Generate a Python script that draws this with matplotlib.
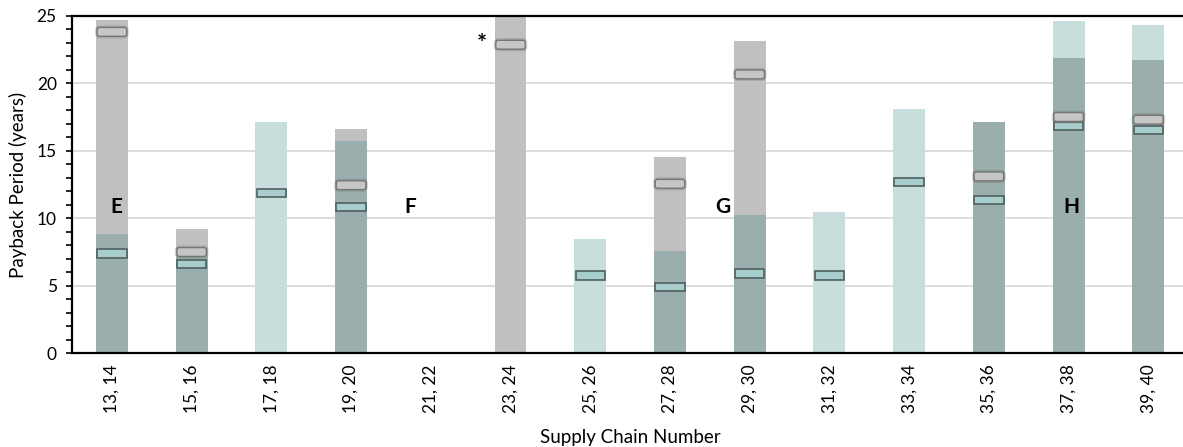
import numpy as np
import matplotlib.pyplot as plt
from matplotlib.patches import FancyBboxPatch

plt.rcParams['font.family'] = ['Lato', 'DejaVu Sans']

pairs = ["13, 14", "15, 16", "17, 18", "19, 20", "21, 22", "23, 24", "25, 26",
         "27, 28", "29, 30", "31, 32", "33, 34", "35, 36", "37, 38", "39, 40"]
# upper end of the payback range for each chain pair (nan = no value)
grey_top = [24.7, 9.2, np.nan, 16.6, np.nan, 30.0, np.nan,
            14.5, 23.1, np.nan, np.nan, 17.15, 21.9, 21.7]
teal_top = [8.85, 7.1, 17.1, 15.7, np.nan, np.nan, 8.45,
            7.6, 10.25, 10.45, 18.1, 17.15, 24.6, 24.3]
# central estimates shown as small boxes
grey_mid = [23.8, 7.5, np.nan, 12.45, np.nan, 22.85, np.nan,
            12.55, 20.65, np.nan, np.nan, 13.1, 17.5, 17.3]
teal_mid = [7.4, 6.6, 11.85, 10.85, np.nan, np.nan, 5.75,
            4.9, 5.9, 5.75, 12.7, 11.35, 16.85, 16.55]

group_labels = ["E", "F", "G", "H"]
group_x = [0.05, 3.74, 7.66, 12.04]

GREY = "#c0c0c0"
TEAL = "#c8dedd"
OVERLAP = "#9aaead"

x = np.arange(len(pairs))
g = np.array(grey_top)
t = np.array(teal_top)
both = np.fmin(np.where(np.isnan(g), 0, g), np.where(np.isnan(t), 0, t))

fig = plt.figure(figsize=(11.83, 4.47), dpi=100)
ax = fig.add_axes([0.0609, 0.2096, 0.9435, 0.7553])

w = 0.4
ax.bar(x, np.nan_to_num(g), width=w, color=GREY, zorder=2)
ax.bar(x, np.nan_to_num(t), width=w, color=TEAL, zorder=2)
ax.bar(x, both, width=w, color=OVERLAP, zorder=3)

# central estimate boxes
mw, mh = 0.37, 0.62
aspect = 79.7 / 13.5
for xi, v in zip(x, teal_mid):
    if np.isnan(v):
        continue
    ax.add_patch(plt.Rectangle((xi - mw / 2, v - mh / 2), mw, mh,
                               facecolor="#a7cdcc", edgecolor="#4f5f5e",
                               lw=1.2, zorder=5))
for xi, v in zip(x, grey_mid):
    if np.isnan(v):
        continue
    # soft halo first, then the box itself
    ax.add_patch(FancyBboxPatch((xi - mw / 2 + 0.02, v - mh / 2 + 0.1),
                                mw - 0.04, mh - 0.2,
                                boxstyle="round,pad=0.02,rounding_size=0.03",
                                mutation_aspect=aspect,
                                facecolor="none", edgecolor="#707070",
                                lw=3.0, alpha=0.3, zorder=5))
    ax.add_patch(FancyBboxPatch((xi - mw / 2 + 0.02, v - mh / 2 + 0.1),
                                mw - 0.04, mh - 0.2,
                                boxstyle="round,pad=0.02,rounding_size=0.03",
                                mutation_aspect=aspect,
                                facecolor="#c6c6c6", edgecolor="#767676",
                                lw=1.0, zorder=6))

for lab, gx in zip(group_labels, group_x):
    ax.text(gx, 10.8, lab, ha="center", va="center", fontsize=15,
            fontweight="bold", zorder=7)
ax.text(4.64, 22.9, "*", ha="center", va="center", fontsize=17,
        fontweight="bold", zorder=7)

ax.set_xlim(-0.5, 13.5)
ax.set_ylim(0, 25)
ax.set_yticks(range(0, 26, 5))
ax.set_yticks(range(0, 26), minor=True)
ax.yaxis.grid(True, color="#d9d9d9", lw=1.3, zorder=0)
ax.set_axisbelow(True)
ax.tick_params(axis="y", which="both", direction="out", length=4, width=1.2,
               labelsize=12.5, pad=7)
ax.tick_params(axis="x", length=0, labelsize=12.5, pad=8)
ax.set_xticks(x)
ax.set_xticklabels(pairs, rotation=90)

for side in ["left", "bottom", "top"]:
    ax.spines[side].set_linewidth(1.6)
    ax.spines[side].set_zorder(8)
ax.spines["right"].set_visible(False)

ax.set_ylabel("Payback Period (years)", fontsize=13.5, labelpad=7)
ax.set_xlabel("Supply Chain Number", fontsize=13.5, labelpad=11)

fig.savefig("out.png", dpi=100)
